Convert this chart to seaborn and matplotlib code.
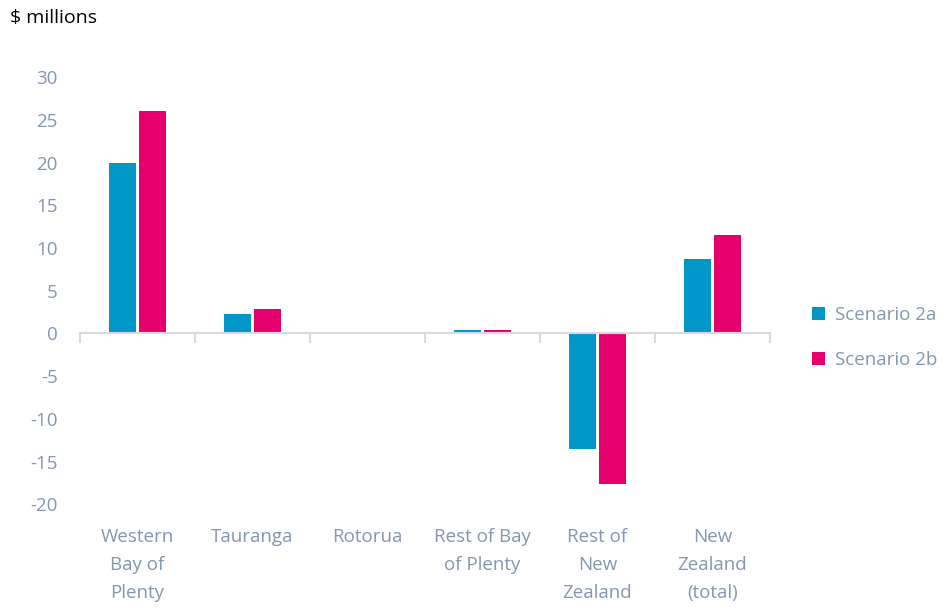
import matplotlib
matplotlib.use("Agg")
import matplotlib.pyplot as plt
import seaborn as sns
import pandas as pd

categories = ["Western\nBay of\nPlenty", "Tauranga", "Rotorua", "Rest of Bay\nof Plenty",
              "Rest of\nNew\nZealand", "New\nZealand\n(total)"]
scenario_2a = [20.0, 2.3, 0.0, 0.35, -13.5, 8.75]
scenario_2b = [26.0, 2.9, 0.0, 0.35, -17.6, 11.55]
series_names = ["Scenario 2a", "Scenario 2b"]
yticks = [-20, -15, -10, -5, 0, 5, 10, 15, 20, 25, 30]

sns.set_theme(style="white")
plt.rcParams['font.family'] = ['Open Sans', 'DejaVu Sans']

df = pd.DataFrame({
    "cat": categories * 2,
    "val": scenario_2a + scenario_2b,
    "series": [series_names[0]] * 6 + [series_names[1]] * 6,
})

fig = plt.figure(figsize=(9.49, 6.12), dpi=100)
ax = fig.add_axes([0.0843, 0.176, 0.727, 0.698])
sns.barplot(data=df, x="cat", y="val", hue="series", order=categories,
            palette=["#0096C8", "#E6006E"], saturation=1, linewidth=0,
            width=0.52, gap=0.1, ax=ax, legend=True)

tick_col = "#8497B0"
fs = 13.5
ax.set_ylim(-20, 30)
ax.set_xlim(-0.5, 5.5)
ax.set_yticks(yticks)
ax.set_yticklabels([str(t) for t in yticks], color=tick_col, fontsize=fs)
ax.tick_params(axis='y', length=0, pad=16)
ax.set_xlabel("")
ax.set_ylabel("")
for s in ["left", "right", "top"]:
    ax.spines[s].set_visible(False)
ax.spines["bottom"].set_position(("data", 0))
ax.spines["bottom"].set_color("#D9D9DF")
ax.spines["bottom"].set_linewidth(1.5)
ax.set_xticks([i - 0.5 for i in range(7)])
ax.set_xticklabels([])
ax.tick_params(axis='x', length=7, width=1.5, color="#D9D9DF", direction='out', bottom=True)

sec = ax.secondary_xaxis(0)
sec.set_xticks(range(len(categories)))
sec.set_xticklabels(categories, color=tick_col, fontsize=fs, linespacing=1.72, va='top')
sec.tick_params(axis='x', length=0, pad=17)
for s in sec.spines.values():
    s.set_visible(False)

leg = ax.legend(loc="center left", bbox_to_anchor=(1.037, 0.39), frameon=False,
                fontsize=fs, handlelength=0.7, handleheight=0.7, handletextpad=0.5,
                labelspacing=1.45)
for t in leg.get_texts():
    t.set_color(tick_col)

fig.text(10 / 949, 1 - 18 / 612, "$ millions", fontsize=14, color="black", va='center', ha='left')

fig.savefig("out.png", dpi=100)
